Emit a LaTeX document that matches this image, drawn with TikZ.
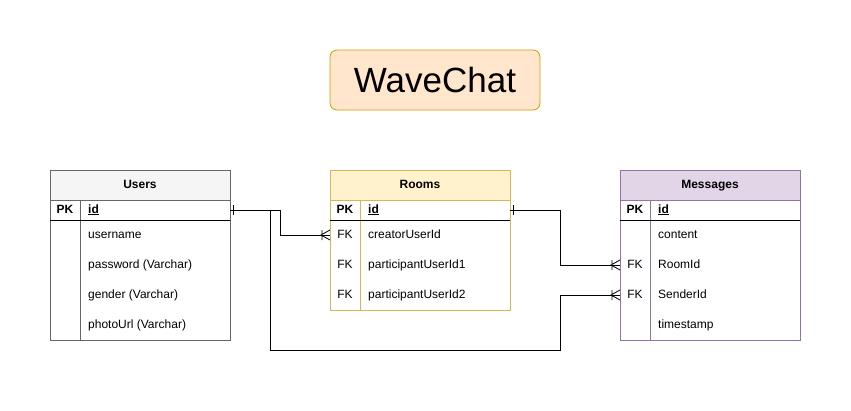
\documentclass[tikz,border=0pt]{standalone}
\usepackage{fontspec}
\setmainfont{Liberation Sans}
\definecolor{usersfill}{HTML}{F5F5F5}
\definecolor{usersline}{HTML}{666666}
\definecolor{roomsfill}{HTML}{FFF2CC}
\definecolor{roomsline}{HTML}{D6B656}
\definecolor{msgfill}{HTML}{E1D5E7}
\definecolor{msgline}{HTML}{9673A6}
\definecolor{titlefill}{HTML}{FFE6CC}
\definecolor{titleline}{HTML}{D79B00}
\tikzset{
  onebar/.pic={\draw[line width=0.8pt] (3,-5) -- (3,5);},
  crowfoot/.pic={\draw[line width=0.8pt] (0,-5) -- (-9,0) -- (0,5) (-8,-5) -- (-8,5);}
}
\begin{document}
\begin{tikzpicture}[x=1pt, y=-1pt,
  hdr/.style={draw, line width=0.8pt, minimum width=180pt, minimum height=30pt, inner sep=0pt, text height=8.6pt, text depth=2.6pt, font=\fontsize{12}{14}\selectfont\bfseries},
  body/.style={draw, line width=0.8pt, minimum width=180pt, inner sep=0pt},
  rowbox/.style={minimum width=180pt, minimum height=20pt, inner sep=0pt, outer sep=0pt},
  key/.style={inner sep=0pt, text height=8.6pt, text depth=2.6pt, font=\fontsize{12}{14}\selectfont},
  field/.style={anchor=west, inner sep=0pt, text height=8.6pt, text depth=2.6pt, font=\fontsize{12}{14}\selectfont},
  rel/.style={line width=0.8pt}
]
  \useasboundingbox (0,0) rectangle (851,410);

  \node[draw=titleline, fill=titlefill, line width=0.8pt, rounded corners=7pt, minimum width=210pt, minimum height=60pt, font=\fontsize{35}{40}\selectfont] (title) at (435,80) {WaveChat};

  % Users
  \node[hdr, draw=usersline, fill=usersfill] (users) at (140,185) {Users};
  \node[body, draw=usersline, minimum height=140pt] (users-body) at (140,270) {};
  \draw[usersline, line width=0.8pt] (80,200) -- (80,340);
  \draw[line width=0.8pt] (50,220) -- (230,220);
  \node[rowbox] (users-r0) at (140,210) {};
  \node[key] (users-pk) at (65,210) {\bfseries PK};
  \node[field] (users-id) at (88,210) {\bfseries\underline{id}};
  \node[field] (users-name) at (88,235) {username};
  \node[field] (users-pass) at (88,265) {password (Varchar)};
  \node[field] (users-gender) at (88,295) {gender (Varchar)};
  \node[field] (users-photo) at (88,325) {photoUrl (Varchar)};

  % Rooms
  \node[hdr, draw=roomsline, fill=roomsfill] (rooms) at (420,185) {Rooms};
  \node[body, draw=roomsline, minimum height=110pt] (rooms-body) at (420,255) {};
  \draw[roomsline, line width=0.8pt] (360,200) -- (360,310);
  \draw[line width=0.8pt] (330,220) -- (510,220);
  \node[rowbox] (rooms-r0) at (420,210) {};
  \node[rowbox] (rooms-r1) at (420,235) {};
  \node[key] (rooms-pk) at (345,210) {\bfseries PK};
  \node[field] (rooms-id) at (368,210) {\bfseries\underline{id}};
  \node[key] (rooms-fk1) at (345,235) {FK};
  \node[field] (rooms-creator) at (368,235) {creatorUserId};
  \node[key] (rooms-fk2) at (345,265) {FK};
  \node[field] (rooms-part1) at (368,265) {participantUserId1};
  \node[key] (rooms-fk3) at (345,295) {FK};
  \node[field] (rooms-part2) at (368,295) {participantUserId2};

  % Messages
  \node[hdr, draw=msgline, fill=msgfill] (msg) at (710,185) {Messages};
  \node[body, draw=msgline, minimum height=140pt] (msg-body) at (710,270) {};
  \draw[msgline, line width=0.8pt] (650,200) -- (650,340);
  \draw[line width=0.8pt] (620,220) -- (800,220);
  \node[rowbox] (msg-r2) at (710,265) {};
  \node[rowbox] (msg-r3) at (710,295) {};
  \node[key] (msg-pk) at (635,210) {\bfseries PK};
  \node[field] (msg-id) at (658,210) {\bfseries\underline{id}};
  \node[field] (msg-content) at (658,235) {content};
  \node[key] (msg-fk1) at (635,265) {FK};
  \node[field] (msg-room) at (658,265) {RoomId};
  \node[key] (msg-fk2) at (635,295) {FK};
  \node[field] (msg-sender) at (658,295) {SenderId};
  \node[field] (msg-time) at (658,325) {timestamp};

  \coordinate (bend) at (560,350);
  \draw[rel] (users-r0.east) -- ++(50,0) |- (rooms-r1.west);
  \draw[rel] (users-r0.east) -- ++(40,0) |- (bend) |- (msg-r3.west);
  \draw[rel] (rooms-r0.east) -- ++(50,0) |- (msg-r2.west);
  \pic at (users-r0.east) {onebar};
  \pic at (rooms-r0.east) {onebar};
  \pic at (rooms-r1.west) {crowfoot};
  \pic at (msg-r2.west) {crowfoot};
  \pic at (msg-r3.west) {crowfoot};
\end{tikzpicture}
\end{document}
